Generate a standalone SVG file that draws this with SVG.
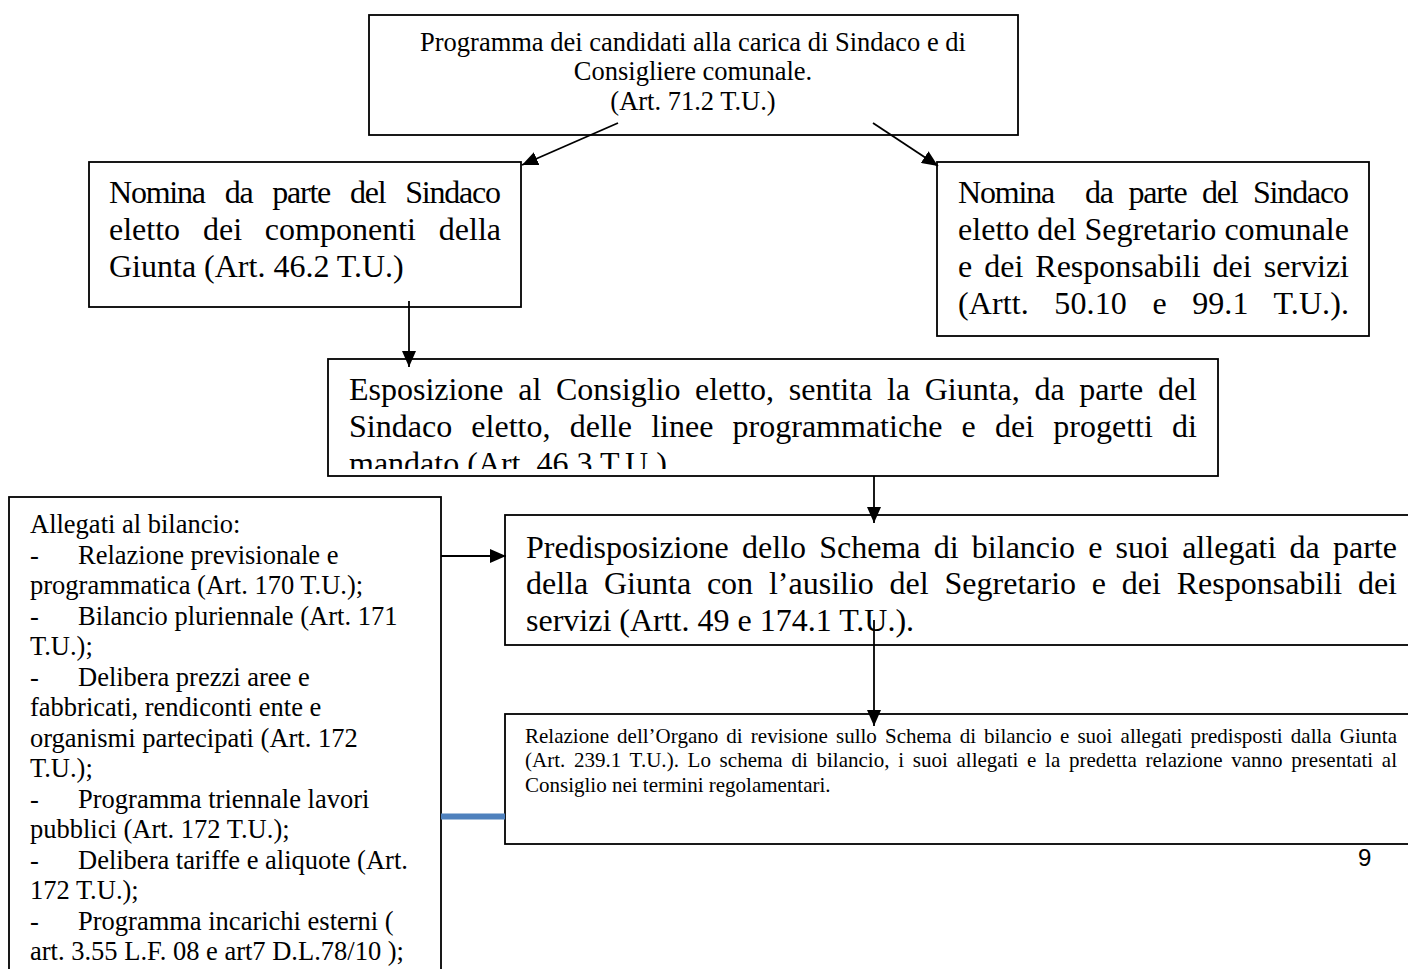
<svg xmlns="http://www.w3.org/2000/svg" width="1408" height="969" viewBox="0 0 1408 969">
<style>
.box{fill:#fff;stroke:#000;stroke-width:1.8}
.t{font-family:"Liberation Serif","Times New Roman",serif;fill:#000}
.s26{font-size:26.5px}
.s32{font-size:32px}
.s21{font-size:21px}
.conn{stroke:#000;stroke-width:1.8;fill:none}
</style>
<defs>
<marker id="ah" markerUnits="userSpaceOnUse" markerWidth="16" markerHeight="14" refX="16" refY="7" orient="auto"><path d="M0,0 L16,7 L0,14 z" fill="#000"/></marker>
<clipPath id="clipExpo"><rect x="328" y="359" width="890" height="110"/></clipPath>
</defs>
<rect width="1408" height="969" fill="#fff"/>

<g id="n-programma">
<rect class="box" x="369" y="15" width="649" height="120"/>
<text class="t s26" x="693" y="51" text-anchor="middle">Programma dei candidati alla carica di Sindaco e di</text>
<text class="t s26" x="693" y="80" text-anchor="middle">Consigliere comunale.</text>
<text class="t s26" x="693" y="110" text-anchor="middle">(Art. 71.2 T.U.)</text>
</g>

<g id="n-giunta">
<rect class="box" x="89" y="162" width="432" height="145"/>
<text class="t s32" x="109" y="203" word-spacing="13" textLength="392" lengthAdjust="spacing">Nomina da parte del Sindaco</text>
<text class="t s32" x="109" y="240" word-spacing="14.8" textLength="392" lengthAdjust="spacing">eletto dei componenti della</text>
<text class="t s32" x="109" y="277">Giunta (Art. 46.2 T.U.)</text>
</g>

<g id="n-segretario">
<rect class="box" x="937" y="162" width="432" height="174"/>
<text class="t s32" x="958" y="203" xml:space="preserve" word-spacing="8.7" textLength="391" lengthAdjust="spacing">Nomina  da parte del Sindaco</text>
<text class="t s32" x="958" y="240" textLength="391" lengthAdjust="spacing">eletto del Segretario comunale</text>
<text class="t s32" x="958" y="277" word-spacing="4" textLength="391" lengthAdjust="spacing">e dei Responsabili dei servizi</text>
<text class="t s32" x="958" y="314" word-spacing="17.3" textLength="391" lengthAdjust="spacing">(Artt. 50.10 e 99.1 T.U.).</text>
</g>

<g id="n-esposizione">
<rect class="box" x="328" y="359" width="890" height="117"/>
<text class="t s32" x="349" y="400" word-spacing="6.7" textLength="848" lengthAdjust="spacing">Esposizione al Consiglio eletto, sentita la Giunta, da parte del</text>
<text class="t s32" x="349" y="437" word-spacing="11.2" textLength="848" lengthAdjust="spacing">Sindaco eletto, delle linee programmatiche e dei progetti di</text>
<text class="t s32" x="349" y="474" clip-path="url(#clipExpo)">mandato (Art. 46.3 T.U.)</text>
</g>

<g id="n-allegati">
<rect class="box" x="9" y="497" width="432" height="490"/>
<text class="t s26" x="30" y="533">Allegati al bilancio:</text>
<text class="t s26" x="30" y="563.5">-</text>
<text class="t s26" x="78" y="563.5">Relazione previsionale e</text>
<text class="t s26" x="30" y="594">programmatica (Art. 170 T.U.);</text>
<text class="t s26" x="30" y="624.5">-</text>
<text class="t s26" x="78" y="624.5">Bilancio pluriennale (Art. 171</text>
<text class="t s26" x="30" y="655">T.U.);</text>
<text class="t s26" x="30" y="685.5">-</text>
<text class="t s26" x="78" y="685.5">Delibera prezzi aree e</text>
<text class="t s26" x="30" y="716">fabbricati, rendiconti ente e</text>
<text class="t s26" x="30" y="746.5">organismi partecipati (Art. 172</text>
<text class="t s26" x="30" y="777">T.U.);</text>
<text class="t s26" x="30" y="807.5">-</text>
<text class="t s26" x="78" y="807.5">Programma triennale lavori</text>
<text class="t s26" x="30" y="838">pubblici (Art. 172 T.U.);</text>
<text class="t s26" x="30" y="868.5">-</text>
<text class="t s26" x="78" y="868.5">Delibera tariffe e aliquote (Art.</text>
<text class="t s26" x="30" y="899">172 T.U.);</text>
<text class="t s26" x="30" y="929.5">-</text>
<text class="t s26" x="78" y="929.5">Programma incarichi esterni (</text>
<text class="t s26" x="30" y="960">art. 3.55 L.F. 08 e art7 D.L.78/10 );</text>
</g>

<g id="n-predisposizione">
<rect class="box" x="505" y="515" width="920" height="130"/>
<text class="t s32" x="526" y="558" word-spacing="5.2" textLength="871" lengthAdjust="spacing">Predisposizione dello Schema di bilancio e suoi allegati da parte</text>
<text class="t s32" x="526" y="594" word-spacing="7.8" textLength="871" lengthAdjust="spacing">della Giunta con l’ausilio del Segretario e dei Responsabili dei</text>
<text class="t s32" x="526" y="631">servizi (Artt. 49 e 174.1 T.U.).</text>
</g>

<g id="n-relazione">
<rect class="box" x="505" y="714" width="920" height="130"/>
<text class="t s21" x="525" y="743" word-spacing="2.9" textLength="872" lengthAdjust="spacing">Relazione dell’Organo di revisione sullo Schema di bilancio e suoi allegati predisposti dalla Giunta</text>
<text class="t s21" x="525" y="767" word-spacing="3.4" textLength="872" lengthAdjust="spacing">(Art. 239.1 T.U.). Lo schema di bilancio, i suoi allegati e la predetta relazione vanno presentati al</text>
<text class="t s21" x="525" y="792">Consiglio nei termini regolamentari.</text>
</g>

<g id="connectors">
<line class="conn" x1="618" y1="123" x2="522" y2="165" marker-end="url(#ah)"/>
<line class="conn" x1="873" y1="123" x2="938" y2="166" marker-end="url(#ah)"/>
<line class="conn" x1="409" y1="301" x2="409" y2="367" marker-end="url(#ah)"/>
<line class="conn" x1="874" y1="476" x2="874" y2="523" marker-end="url(#ah)"/>
<line class="conn" x1="874" y1="620" x2="874" y2="726" marker-end="url(#ah)"/>
<line class="conn" x1="441" y1="556" x2="506" y2="556" marker-end="url(#ah)"/>
<line x1="441" y1="816.5" x2="505" y2="816.5" stroke="#4f81bd" stroke-width="6"/>
</g>

<text x="1358" y="866" font-family="'Liberation Sans', Arial, sans-serif" font-size="24" fill="#000">9</text>
</svg>
